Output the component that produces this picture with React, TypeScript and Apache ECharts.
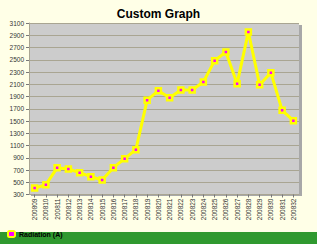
import React, { useEffect, useRef } from "react";
import * as echarts from "echarts";

const categories = [
  "200809", "200810", "200811", "200812", "200813", "200814", "200815", "200816",
  "200817", "200818", "200819", "200820", "200821", "200822", "200823", "200824",
  "200825", "200826", "200827", "200828", "200829", "200830", "200831", "200832",
];
const radiation = [
  405, 460, 735, 716, 656, 591, 537, 738, 885, 1032, 1840, 1995, 1881, 2007, 2007, 2137,
  2485, 2627, 2110, 2954, 2093, 2289, 1675, 1505,
];
const seriesName = "Radiation (A)";
const titleText = "Custom Graph";

export default function App() {
  const ref = useRef<HTMLDivElement>(null);
  useEffect(() => {
    document.body.style.margin = "0";
    const chart = echarts.init(ref.current!, null, { renderer: "svg" });
    const font = "Arial, 'Liberation Sans', sans-serif";
    const grid = { left: 29, right: 18, top: 23, bottom: 49.5 };
    chart.setOption({
      animation: false,
      backgroundColor: "#FFFFE7",
      title: {
        text: titleText,
        left: "center",
        top: 3,
        textStyle: { fontFamily: font, fontSize: 12, fontWeight: "bold", color: "#000" },
      },
      grid: {
        ...grid,
        show: true,
        backgroundColor: "#CCCCCC",
        borderWidth: 0,
      },
      graphic: [
        { type: "rect", left: 0, bottom: 0, shape: { width: 317, height: 12 }, style: { fill: "#2F992F" }, z: 0 },
        { type: "rect", shape: { x: 299, y: 25, width: 3, height: 171 }, style: { fill: "#A8A8A8" }, z: 0 },
        { type: "rect", shape: { x: 31, y: 194.5, width: 271, height: 1.5 }, style: { fill: "#A8A8A8" }, z: 0 },
      ],
      legend: {
        left: 2,
        bottom: 1,
        itemWidth: 7,
        itemHeight: 6,
        itemGap: 4,
        icon: "roundRect",
        data: [{ name: seriesName, itemStyle: { color: "#FF00FF", borderColor: "#FFFF00", borderWidth: 2 } }],
        textStyle: { fontFamily: font, fontSize: 7, fontWeight: "bold", color: "#000", padding: [0, 0, 0, -1] },
        z: 10,
      },
      xAxis: {
        type: "category",
        data: categories,
        boundaryGap: true,
        axisLine: { show: true, lineStyle: { color: "#A9A592", width: 1 } },
        axisTick: { show: true, alignWithLabel: true, length: 3, lineStyle: { color: "#777" } },
        axisLabel: {
          rotate: 90,
          interval: 0,
          fontFamily: font,
          fontSize: 6.5,
          color: "#333",
          margin: 4,
        },
        splitLine: { show: false },
      },
      yAxis: {
        type: "value",
        min: 300,
        max: 3100,
        interval: 200,
        axisLine: { show: true, lineStyle: { color: "#A9A592", width: 1 } },
        axisTick: { show: true, length: 3, lineStyle: { color: "#777" } },
        axisLabel: {
          fontFamily: font,
          fontSize: 6.5,
          color: "#333",
          margin: 5,
          formatter: (v: number) => String(v),
        },
        splitLine: { show: true, lineStyle: { color: "#A9A592", width: 1 } },
      },
      series: [
        {
          name: seriesName,
          type: "line",
          data: radiation,
          lineStyle: { color: "#FFFF00", width: 3 },
          symbol: "rect",
          symbolSize: 5,
          itemStyle: { color: "#FF00FF", borderColor: "#FFFF00", borderWidth: 2.5 },
          z: 5,
        },
      ],
    });
    return () => chart.dispose();
  }, []);
  return <div ref={ref} style={{ position: "fixed", left: 0, top: 0, width: 317, height: 244 }} />;
}
